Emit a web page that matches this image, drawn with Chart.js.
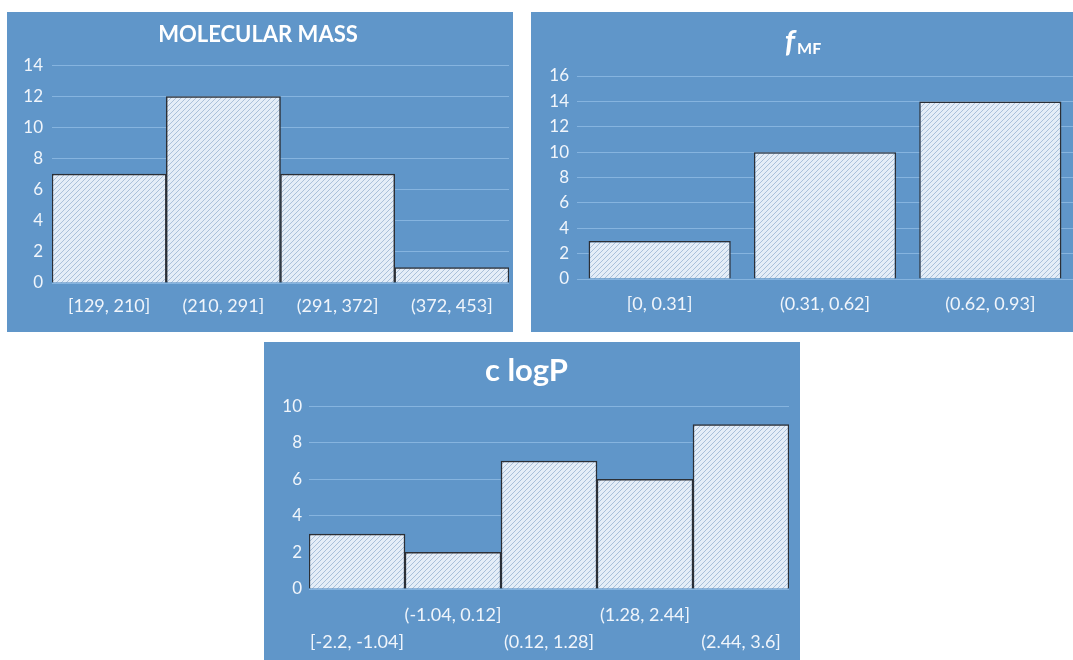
<!DOCTYPE html>
<html>
<head>
<meta charset="utf-8">
<script src="https://cdn.jsdelivr.net/npm/chart.js@4.4.1/dist/chart.umd.min.js"></script>
<style>
  body { margin: 0; background: #fff; width: 1073px; height: 660px; position: relative; overflow: hidden; }
  .panel { position: absolute; background: #6096c9; }
  .panel canvas { display: block; }
</style>
</head>
<body>
<div class="panel" style="left:7px;top:12px;width:506px;height:320px"><canvas id="mmChart"></canvas></div>
<div class="panel" style="left:531px;top:12px;width:542px;height:320px"><canvas id="fmfChart"></canvas></div>
<div class="panel" style="left:264px;top:342px;width:536px;height:318px"><canvas id="logpChart"></canvas></div>
<script>
// data
const mmLabels = ['[129, 210]', '(210, 291]', '(291, 372]', '(372, 453]'];
const mmCounts = [7, 12, 7, 1];

const fmfLabels = ['[0, 0.31]', '(0.31, 0.62]', '(0.62, 0.93]'];
const fmfCounts = [3, 10, 14];

const logpLabels = ['[-2.2, -1.04]', '(-1.04, 0.12]', '(0.12, 1.28]', '(1.28, 2.44]', '(2.44, 3.6]'];
const logpCounts = [3, 2, 7, 6, 9];

const FONT = 'Lato, "Open Sans", sans-serif';
const tickColor = '#f0f5fb';
const gridColor = '#86b4df';

// diagonal hatch fill
function hatch() {
  const c = document.createElement('canvas');
  c.width = 5; c.height = 5;
  const g = c.getContext('2d');
  g.fillStyle = '#e4edf7';
  g.fillRect(0, 0, 5, 5);
  g.strokeStyle = '#a9c0da';
  g.lineWidth = 1;
  g.beginPath();
  g.moveTo(0, 5); g.lineTo(5, 0);
  g.moveTo(-1, 1); g.lineTo(1, -1);
  g.moveTo(4, 6); g.lineTo(6, 4);
  g.stroke();
  return g.createPattern(c, 'repeat');
}

function makeConfig(labels, counts, yMax, opts) {
  return {
    type: 'bar',
    data: {
      labels: labels,
      datasets: [{
        data: counts,
        backgroundColor: hatch(),
        borderColor: '#2b2f36',
        borderWidth: 1.5,
        barPercentage: opts.barPct,
        categoryPercentage: 1
      }]
    },
    options: {
      responsive: true,
      maintainAspectRatio: false,
      animation: false,
      layout: { padding: opts.padding },
      plugins: {
        legend: { display: false },
        tooltip: { enabled: false },
        title: opts.title
      },
      scales: {
        x: {
          grid: { display: false },
          border: { display: false },
          ticks: { color: tickColor, font: { family: FONT, size: 18 }, maxRotation: 0, autoSkip: false, padding: opts.xPad },
          afterFit: (s) => { s.height = opts.xHeight; }
        },
        y: {
          min: 0, max: yMax,
          ticks: { stepSize: 2, color: tickColor, font: { family: FONT, size: 17 }, padding: opts.yPad },
          grid: { color: gridColor, drawTicks: false },
          border: { display: false },
          afterFit: (s) => { s.width = opts.yWidth; }
        }
      }
    }
  };
}

new Chart(document.getElementById('mmChart'), makeConfig(mmLabels, mmCounts, 14, {
  barPct: 1,
  padding: { left: 0, right: 4, top: 0, bottom: 0 },
  xPad: 4, xHeight: 49, yPad: 9, yWidth: 45,
  title: { display: true, text: 'MOLECULAR MASS', color: '#ffffff', font: { family: FONT, size: 22, weight: 'bold' }, padding: { top: 10, bottom: 17 } }
}));

// italic f with subscript MF
const fmfTitle = {
  id: 'fmfTitle',
  afterDraw(chart) {
    const ctx = chart.ctx;
    ctx.save();
    ctx.fillStyle = '#ffffff';
    ctx.textBaseline = 'alphabetic';
    ctx.font = 'italic bold 31px ' + FONT;
    const fw = ctx.measureText('f').width;
    ctx.font = 'bold 16px ' + FONT;
    const sw = ctx.measureText('MF').width;
    const x0 = chart.width / 2 + 1 - (fw + sw + 2) / 2;
    ctx.font = 'italic bold 31px ' + FONT;
    ctx.fillText('f', x0, 40);
    ctx.font = 'bold 16px ' + FONT;
    ctx.fillText('MF', x0 + fw + 2, 42);
    ctx.restore();
  }
};
const fmfCfg = makeConfig(fmfLabels, fmfCounts, 16, {
  barPct: 0.86,
  padding: { left: 0, right: 0, top: 64, bottom: 0 },
  xPad: 6, xHeight: 53, yPad: 8, yWidth: 46,
  title: { display: false }
});
fmfCfg.plugins = [fmfTitle];
new Chart(document.getElementById('fmfChart'), fmfCfg);

// staggered two-row labels
const logpTickLabels = logpLabels.map((l, i) => i % 2 === 0 ? ['', l] : [l, '']);
const logpCfg = makeConfig(logpTickLabels, logpCounts, 10, {
  barPct: 1,
  padding: { left: 0, right: 11, top: 0, bottom: 0 },
  xPad: 5, xHeight: 71, yPad: 7, yWidth: 45,
  title: { display: true, text: 'c logP', color: '#ffffff', font: { family: FONT, size: 31, weight: 'bold' }, padding: { top: 10, bottom: 17 } }
});
logpCfg.options.scales.x.ticks.font.lineHeight = 1.5;
new Chart(document.getElementById('logpChart'), logpCfg);
</script>
</body>
</html>
